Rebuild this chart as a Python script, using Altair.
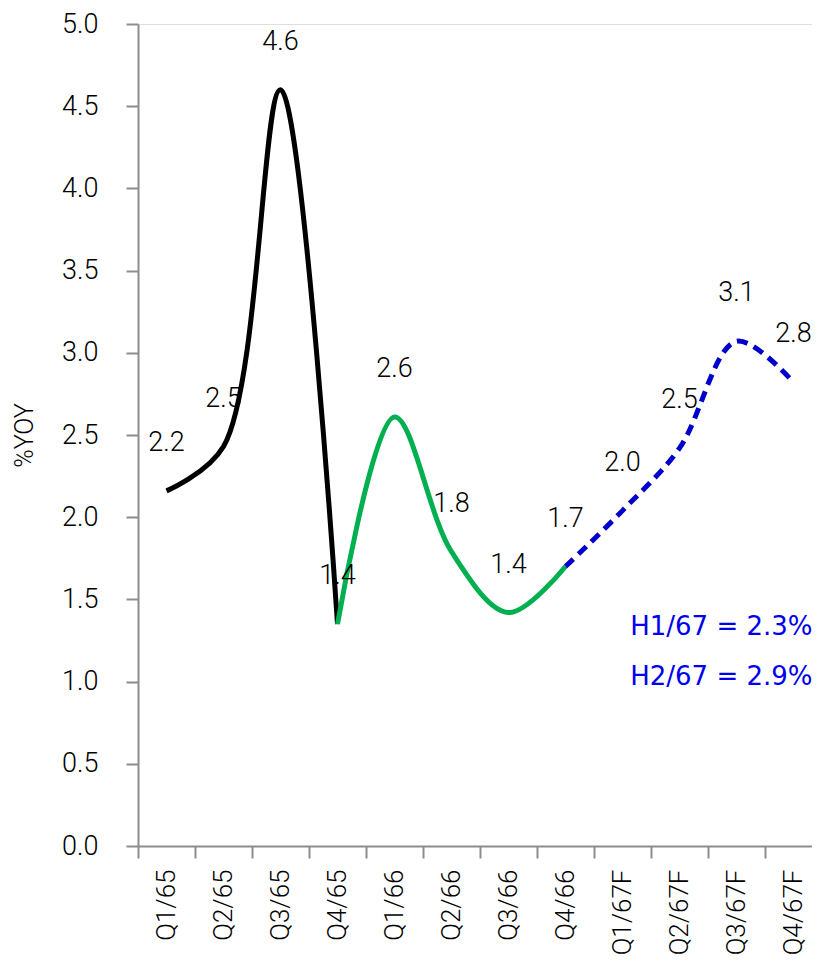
import altair as alt
import pandas as pd

quarters = ["Q1/65", "Q2/65", "Q3/65", "Q4/65", "Q1/66", "Q2/66", "Q3/66", "Q4/66",
            "Q1/67F", "Q2/67F", "Q3/67F", "Q4/67F"]
values = [2.16, 2.43, 4.60, 1.35, 2.61, 1.79, 1.42, 1.70, 2.04, 2.42, 3.07, 2.82]
labels = ["2.2", "2.5", "4.6", "1.4", "2.6", "1.8", "1.4", "1.7", "2.0", "2.5", "3.1", "2.8"]
segment = ["actual65"] * 4 + ["actual66"] * 4 + ["forecast"] * 4

notes = ["H1/67 = 2.3%", "H2/67 = 2.9%"]
note_y = [1.33, 1.03]

df = pd.DataFrame({"q": quarters, "v": values, "lab": labels, "seg": segment})
black_df = df.iloc[0:4]
green_df = df.iloc[3:8]
blue_df = df.iloc[7:12]
notes_df = pd.DataFrame({"q": [quarters[-1]] * 2, "v": note_y, "t": notes})

FONT = "Roboto"
FW = 300
xscale = alt.Scale(type="band", domain=quarters, paddingInner=0, paddingOuter=0)
yscale = alt.Scale(domain=[0, 5], nice=False)

xenc = alt.X("q:N", scale=xscale, bandPosition=0.5, sort=quarters,
             axis=alt.Axis(title=None, labelAngle=270, tickBand="extent", tickSize=12,
                           labelPadding=11, labelFontSize=26, labelFont=FONT,
                           labelFontWeight=FW,
                           labelColor="#000000", domainColor="#8c8c8c", tickColor="#8c8c8c",
                           domainWidth=2, tickWidth=2, grid=False))
yenc = alt.Y("v:Q", scale=yscale,
             axis=alt.Axis(title="%YOY", values=[0, 0.5, 1, 1.5, 2, 2.5, 3, 3.5, 4, 4.5, 5],
                           format=".1f", tickSize=12, labelPadding=28, labelFontSize=27,
                           labelFont=FONT, labelFontWeight=FW, labelColor="#000000",
                           titleFont=FONT, titleFontSize=25, titleFontWeight=FW,
                           titleColor="#000000",
                           titlePadding=24, domainColor="#8c8c8c", tickColor="#8c8c8c",
                           domainWidth=2, tickWidth=2, grid=False))

black = alt.Chart(black_df).mark_line(color="#000000", strokeWidth=5,
                                      interpolate="catmull-rom").encode(x=xenc, y=yenc)
green = alt.Chart(green_df).mark_line(color="#00B050", strokeWidth=5,
                                      interpolate="catmull-rom").encode(x=xenc, y=yenc)
blue = alt.Chart(blue_df).mark_line(color="#0000CC", strokeWidth=5, strokeDash=[11, 7],
                                    interpolate="catmull-rom").encode(x=xenc, y=yenc)
texts = alt.Chart(df).mark_text(font=FONT, fontWeight=FW, fontSize=27, color="#000000",
                                dy=-48).encode(x=xenc, y=yenc, text="lab:N")
note_marks = alt.Chart(notes_df).mark_text(font="DejaVu Sans", fontSize=26, color="#0000EE",
                                           align="right", dx=19).encode(
    x=xenc, y=yenc, text="t:N")

chart = alt.layer(black, green, blue, texts, note_marks).properties(
    width=684, height=822,
    autosize=alt.AutoSizeParams(type="none"),
    padding={"left": 130, "top": 16, "right": -10, "bottom": 110},
).configure_view(stroke=None).configure(background="#ffffff")

chart.save("out.html", embed_options={"renderer": "svg", "actions": False})
